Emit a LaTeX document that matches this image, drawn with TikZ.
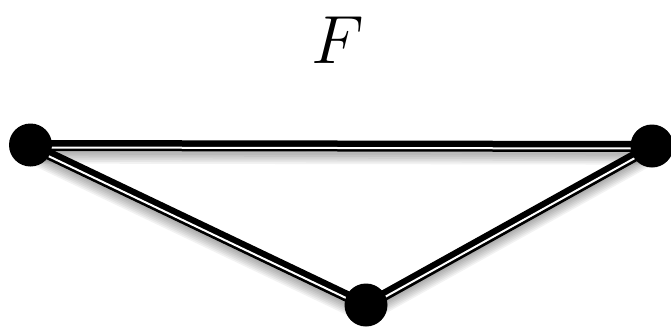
\documentclass[tikz,border=0pt]{standalone}
\usepackage{amsmath}
\usepackage{tikz}
\usetikzlibrary{positioning,backgrounds}

\begin{document}
\begin{tikzpicture}[
  x=0.5pt, y=-0.5pt,
  vertex/.style={circle, fill=black, inner sep=0pt, minimum size=21.5pt},
  edgemain/.style={draw=black, line width=5.5pt},
  edgegap/.style={draw=white, line width=1pt},
  edgeshade/.style={draw=black, opacity=0.05, line width=5.5pt},
]
\useasboundingbox (0,0) rectangle (671,328);
\node[font=\Huge] (title) at (338,40) {\scalebox{1.37}{$F$}};

\node[vertex] (vl) at (30.5,145) {};
\node[vertex] (vr) at (652,146) {};
\node[vertex] (vb) at (366,305) {};

% edges behind the vertices
\begin{pgfonlayer}{background}
  \foreach \a/\b in {vl/vr, vl/vb, vb/vr} {
    \foreach \s in {1,...,7}
      \draw[edgeshade] ([yshift=-\s*0.9pt-0.25pt]\a.center) -- ([yshift=-\s*0.9pt-0.25pt]\b.center);
    \draw[edgemain] ([yshift=-0.25pt]\a.center) -- ([yshift=-0.25pt]\b.center);
    \draw[edgegap] ([yshift=-1.25pt]\a.center) -- ([yshift=-1.25pt]\b.center);
  }
\end{pgfonlayer}
\end{tikzpicture}
\end{document}
